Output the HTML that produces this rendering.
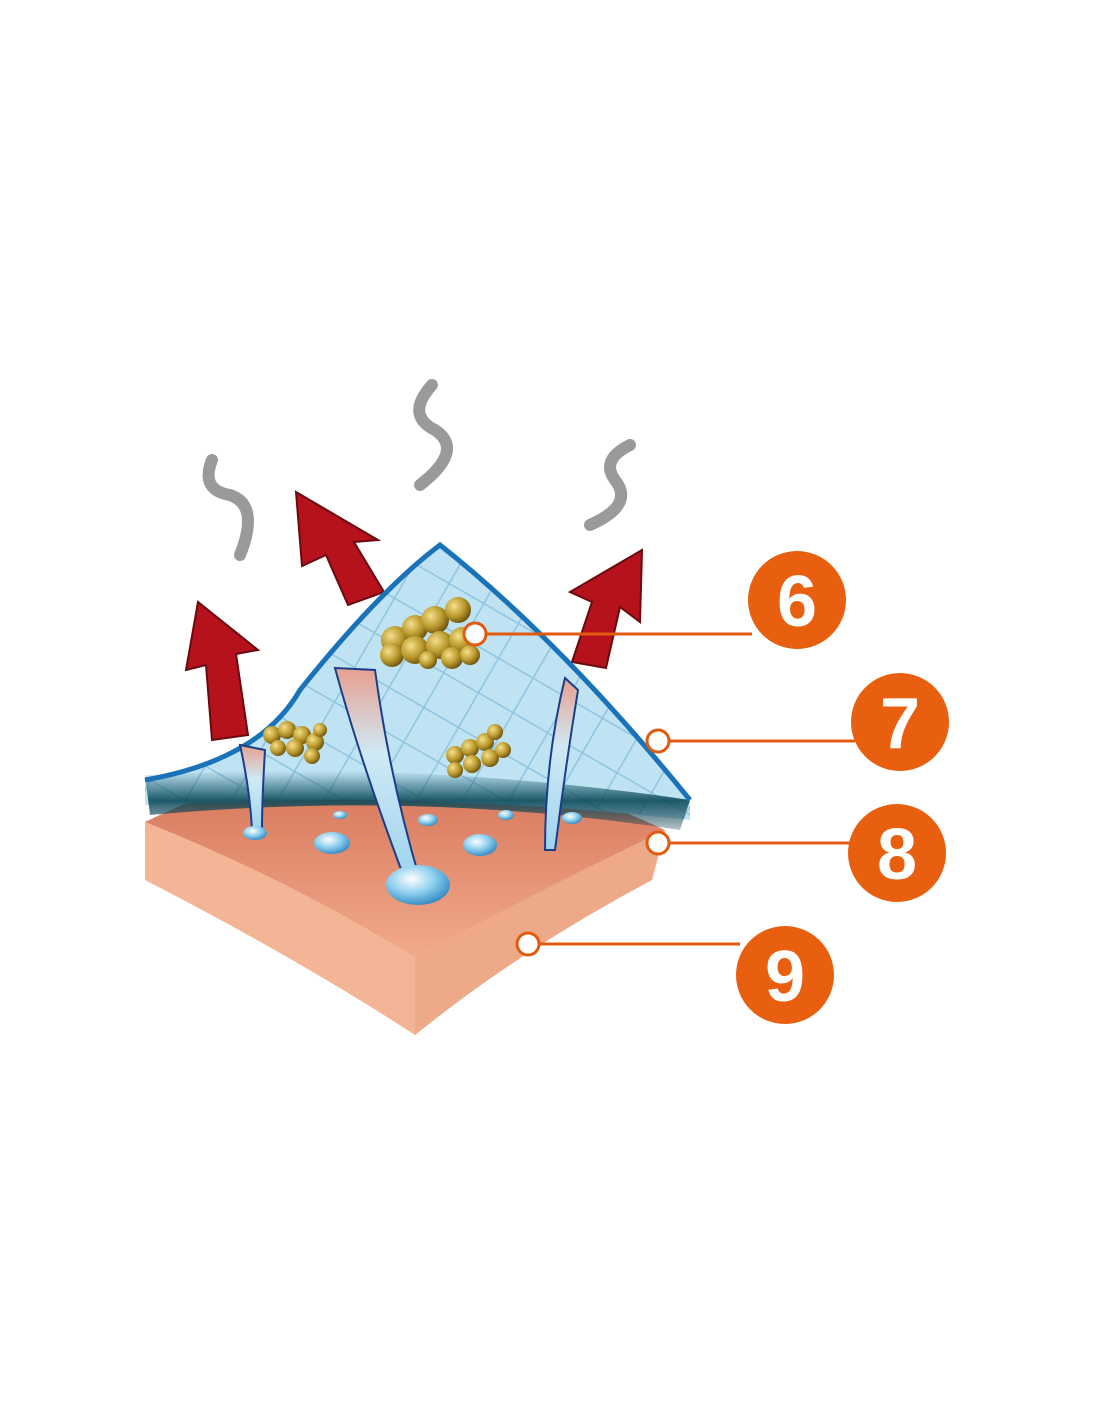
<!DOCTYPE html>
<html><head><meta charset="utf-8"><style>
html,body{margin:0;padding:0;background:#fff;}
svg{display:block}
</style></head><body>
<svg width="1100" height="1422" viewBox="0 0 1100 1422" xmlns="http://www.w3.org/2000/svg">
<defs>
<pattern id="grid" width="40" height="40" patternUnits="userSpaceOnUse" patternTransform="rotate(30)">
<rect width="40" height="40" fill="#bfe3f3"/>
<path d="M0 0H40M0 0V40" stroke="#8ec5e0" stroke-width="3" fill="none"/>
</pattern>
<linearGradient id="dark" x1="0" y1="0" x2="0" y2="1">
<stop offset="0" stop-color="#0b4a5a" stop-opacity="0"/>
<stop offset="0.5" stop-color="#0b4a5a" stop-opacity="0.9"/>
<stop offset="1" stop-color="#0b3a4a" stop-opacity="0.3"/>
</linearGradient>
<linearGradient id="topskin" x1="0" y1="0" x2="0" y2="1">
<stop offset="0" stop-color="#d87a5e"/>
<stop offset="1" stop-color="#f2aa8c"/>
</linearGradient>
<radialGradient id="drop" cx="0.4" cy="0.35" r="0.7">
<stop offset="0" stop-color="#ffffff"/>
<stop offset="0.5" stop-color="#8fd0ee"/>
<stop offset="1" stop-color="#2a85c0"/>
</radialGradient>
<radialGradient id="ball" cx="0.35" cy="0.35" r="0.7">
<stop offset="0" stop-color="#f5e08a"/>
<stop offset="0.6" stop-color="#b8962a"/>
<stop offset="1" stop-color="#6a5210"/>
</radialGradient>
<linearGradient id="chan" x1="0" y1="0" x2="0" y2="1">
<stop offset="0" stop-color="#e8a090"/>
<stop offset="0.4" stop-color="#cfe9f5"/>
<stop offset="1" stop-color="#9fd3ee"/>
</linearGradient>
</defs>

<path d="M145 822 L145 880 Q300 960 415 1035 Q520 950 652 880 L665 830 Q520 900 415 958 Q290 880 145 822Z" fill="#f4b596"/>
<path d="M415 958 L415 1035 Q520 950 652 880 L665 830 Q520 900 415 958Z" fill="#eeaa88"/>
<path d="M145 822 Q290 880 415 958 Q520 900 665 830 Q600 800 560 790 L220 790 Q180 805 145 822Z" fill="url(#topskin)"/>

<g fill="#b5121b" stroke="#6a0a10" stroke-width="2">
<path d="M212 740 L206 665 L186 670 L198 602 L258 650 L236 654 L248 735Z"/>
<path d="M348 605 L326 555 L302 566 L296 492 L378 540 L354 542 L384 592Z"/>
<path d="M572 662 L592 602 L570 592 L642 550 L640 622 L620 607 L606 668Z"/>
</g>

<g fill="none" stroke="#9a9a9a" stroke-width="12" stroke-linecap="round">
<path d="M212 460 Q200 490 230 495 Q260 505 240 555"/>
<path d="M432 385 Q405 415 435 430 Q465 450 420 485"/>
<path d="M630 445 Q600 460 615 480 Q635 505 590 525"/>
</g>

<path d="M145 780 Q260 760 300 690 Q380 590 440 545 Q560 640 690 800 L690 820 Q420 790 145 805Z" fill="url(#grid)"/>
<path d="M145 775 Q420 760 690 800 L680 830 Q420 790 150 815Z" fill="url(#dark)"/>
<path d="M145 780 Q260 760 300 690 Q380 590 440 545 Q560 640 690 800" fill="none" stroke="#1a73b8" stroke-width="5"/>

<g fill="url(#chan)" stroke="#1a3f8a" stroke-width="2">
<path d="M335 668 L375 670 Q390 780 420 880 L405 880 Q360 760 335 668Z"/>
<path d="M240 745 L265 750 Q262 800 262 830 L252 830 Q250 790 240 745Z"/>
<path d="M565 678 L578 690 Q565 770 555 850 L545 850 Q545 760 565 678Z"/>
</g>

<g fill="url(#drop)">
<ellipse cx="418" cy="885" rx="32" ry="20"/>
<ellipse cx="332" cy="843" rx="18" ry="11"/>
<ellipse cx="480" cy="845" rx="17" ry="11"/>
<ellipse cx="255" cy="833" rx="12" ry="7"/>
<ellipse cx="428" cy="820" rx="10" ry="6"/>
<ellipse cx="572" cy="818" rx="10" ry="6"/>
<ellipse cx="506" cy="815" rx="8" ry="5"/>
<ellipse cx="340" cy="815" rx="7" ry="4"/>
</g>

<g fill="url(#ball)">
<circle cx="395" cy="640" r="14"/><circle cx="415" cy="628" r="13"/><circle cx="435" cy="620" r="14"/><circle cx="458" cy="610" r="13"/>
<circle cx="392" cy="655" r="12"/><circle cx="415" cy="650" r="14"/><circle cx="440" cy="645" r="14"/><circle cx="462" cy="640" r="13"/>
<circle cx="452" cy="658" r="11"/><circle cx="470" cy="655" r="10"/><circle cx="428" cy="660" r="9"/>
<circle cx="272" cy="735" r="9"/><circle cx="287" cy="730" r="9"/><circle cx="302" cy="735" r="9"/><circle cx="315" cy="742" r="9"/>
<circle cx="278" cy="748" r="8"/><circle cx="295" cy="748" r="9"/><circle cx="312" cy="756" r="8"/><circle cx="320" cy="730" r="7"/>
<circle cx="455" cy="755" r="9"/><circle cx="470" cy="748" r="9"/><circle cx="485" cy="742" r="9"/><circle cx="495" cy="732" r="8"/>
<circle cx="455" cy="770" r="8"/><circle cx="472" cy="764" r="9"/><circle cx="490" cy="758" r="9"/><circle cx="503" cy="750" r="8"/>
</g>

<g stroke="#e05a10" stroke-width="3" fill="none">
<line x1="486" y1="634" x2="752" y2="634"/>
<line x1="669" y1="741" x2="855" y2="741"/>
<line x1="669" y1="843" x2="852" y2="843"/>
<line x1="539" y1="944" x2="740" y2="944"/>
</g>
<g fill="#fff" stroke="#e05a10" stroke-width="3">
<circle cx="475" cy="634" r="11"/>
<circle cx="658" cy="741" r="11"/>
<circle cx="658" cy="843" r="11"/>
<circle cx="528" cy="944" r="11"/>
</g>
<g fill="#e8600f">
<circle cx="797" cy="600" r="49"/>
<circle cx="900" cy="722" r="49"/>
<circle cx="897" cy="853" r="49"/>
<circle cx="785" cy="975" r="49"/>
</g>
<g fill="#fff" font-family="Liberation Sans, sans-serif" font-weight="bold" font-size="72" text-anchor="middle">
<text x="797" y="626">6</text>
<text x="900" y="748">7</text>
<text x="897" y="879">8</text>
<text x="785" y="1001">9</text>
</g>
</svg>
</body></html>
